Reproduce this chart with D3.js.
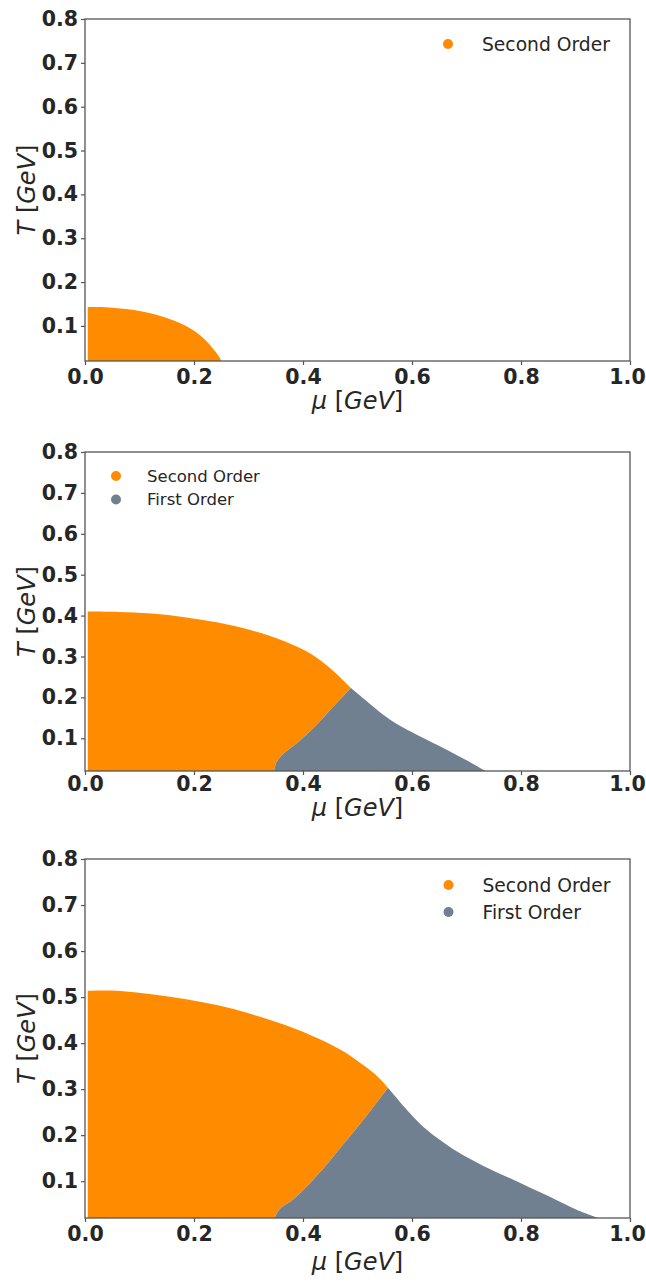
<!DOCTYPE html>
<html>
<head>
<meta charset="utf-8">
<script src="https://cdn.jsdelivr.net/npm/d3@7"></script>
<style>
  body { margin: 0; background: #fff; }
  text { font-family: "DejaVu Sans", sans-serif; }
</style>
</head>
<body>
<svg id="chart" width="646" height="1282"></svg>
<script>
// tick values shared by all three panels
var xTicks = [0.0, 0.2, 0.4, 0.6, 0.8, 1.0];
var yTicks = [0.1, 0.2, 0.3, 0.4, 0.5, 0.6, 0.7, 0.8];
var legendLabels = ["Second Order", "First Order"];

// panel 1: second order boundary [mu, T]
var p1Upper = [
  [0.005, 0.143], [0.03, 0.143], [0.06, 0.1405], [0.09, 0.1365], [0.12, 0.129],
  [0.15, 0.118], [0.175, 0.106], [0.195, 0.093], [0.21, 0.080], [0.223, 0.065],
  [0.233, 0.051], [0.241, 0.039], [0.247, 0.028], [0.25, 0.02]
];

// panel 2
var p2Upper = [
  [0.005, 0.410], [0.06, 0.409], [0.122, 0.405], [0.183, 0.396], [0.244, 0.383],
  [0.305, 0.364], [0.366, 0.337], [0.415, 0.306], [0.451, 0.270], [0.488, 0.223]
];
var p2Split = [
  [0.488, 0.223], [0.454, 0.175], [0.423, 0.130], [0.393, 0.093],
  [0.363, 0.061], [0.351, 0.040], [0.347, 0.02]
];
var p2Lower = [
  [0.488, 0.223], [0.516, 0.192], [0.546, 0.159], [0.577, 0.131], [0.607, 0.110],
  [0.638, 0.089], [0.668, 0.069], [0.699, 0.047], [0.735, 0.02]
];

// panel 3
var p3Upper = [
  [0.005, 0.514], [0.06, 0.514], [0.122, 0.506], [0.183, 0.496], [0.244, 0.482],
  [0.305, 0.463], [0.366, 0.440], [0.428, 0.410], [0.477, 0.380], [0.513, 0.350],
  [0.538, 0.326], [0.556, 0.303]
];
var p3Split = [
  [0.556, 0.303], [0.516, 0.241], [0.474, 0.180], [0.425, 0.111],
  [0.382, 0.060], [0.357, 0.039], [0.348, 0.02]
];
var p3Lower = [
  [0.556, 0.303], [0.590, 0.256], [0.620, 0.219], [0.651, 0.190], [0.682, 0.165],
  [0.731, 0.133], [0.792, 0.100], [0.853, 0.066], [0.902, 0.038], [0.942, 0.02]
];

var ORANGE = "#ff8c00";
var SLATE = "#708090";
var TMIN = 0.02;

var panels = [
  { top: 19, bottom: 361, upper: p1Upper, split: null, lower: null,
    xPad: 4, xLabelY: 409, legX: 448, legY: 44, legStep: 27, legFont: 18.7, legCount: 1 },
  { top: 452, bottom: 771, upper: p2Upper, split: p2Split, lower: p2Lower,
    xPad: 1.5, xLabelY: 816, legX: 116, legY: 476, legStep: 23.5, legFont: 16.5, legCount: 2 },
  { top: 859, bottom: 1218, upper: p3Upper, split: p3Split, lower: p3Lower,
    xPad: 4.5, xLabelY: 1270, legX: 448.5, legY: 885, legStep: 27, legFont: 18.7, legCount: 2 }
];

var svg = d3.select("#chart");

function drawPanel(p) {
  var x = d3.scaleLinear().domain([0, 1]).range([85, 630]);
  var y = d3.scaleLinear().domain([TMIN, 0.8]).range([p.bottom, p.top]);
  var g = svg.append("g");

  var smooth = d3.line()
    .curve(d3.curveCatmullRom.alpha(0.5))
    .x(function (d) { return x(d[0]); })
    .y(function (d) { return y(d[1]); });

  // joins a boundary piece onto the path that is already open
  function piece(pts) {
    return smooth(pts).replace(/^M/, "L");
  }

  // second order region
  var orangeD = "M" + x(p.upper[0][0]) + "," + y(TMIN) + piece(p.upper);
  if (p.split) orangeD += piece(p.split);
  g.append("path")
    .attr("d", orangeD + "Z")
    .attr("fill", ORANGE);

  // first order region
  if (p.lower) {
    var grayD = smooth(p.lower) + piece(p.split.slice().reverse());
    g.append("path")
      .attr("d", grayD + "Z")
      .attr("fill", SLATE);
  }

  var xAxis = g.append("g")
    .attr("transform", "translate(0," + p.bottom + ")")
    .call(d3.axisBottom(x).tickValues(xTicks).tickFormat(d3.format(".1f"))
      .tickSize(4).tickPadding(p.xPad));
  var yAxis = g.append("g")
    .attr("transform", "translate(85,0)")
    .call(d3.axisLeft(y).tickValues(yTicks).tickFormat(d3.format(".1f"))
      .tickSize(4).tickPadding(3));

  [xAxis, yAxis].forEach(function (a) {
    a.select(".domain").remove();
    a.selectAll("line").attr("stroke", "#555").attr("stroke-width", 1.2);
    a.selectAll("text")
      .style("font-family", "'DejaVu Sans', sans-serif")
      .style("font-weight", "bold")
      .style("font-size", "20.5px")
      .attr("fill", "#262626");
  });
  // keep the last label inside the page
  xAxis.select(".tick:last-of-type text").attr("dx", -3);

  // frame
  g.append("rect")
    .attr("x", x(0)).attr("y", p.top)
    .attr("width", x(1) - x(0)).attr("height", p.bottom - p.top)
    .attr("fill", "none")
    .attr("stroke", "#555")
    .attr("stroke-width", 1.3);

  // axis labels
  var xl = g.append("text")
    .attr("x", (x(0) + x(1)) / 2)
    .attr("y", p.xLabelY)
    .attr("text-anchor", "middle")
    .style("font-size", "24px")
    .attr("fill", "#262626");
  xl.append("tspan").style("font-style", "italic").text("\u03bc");
  xl.append("tspan").text(" [");
  xl.append("tspan").style("font-style", "italic").text("GeV");
  xl.append("tspan").text("]");

  var yl = g.append("text")
    .attr("transform", "translate(35," + (p.top + p.bottom) / 2 + ") rotate(-90)")
    .attr("text-anchor", "middle")
    .style("font-size", "24px")
    .attr("fill", "#262626");
  yl.append("tspan").style("font-style", "italic").text("T");
  yl.append("tspan").text(" [");
  yl.append("tspan").style("font-style", "italic").text("GeV");
  yl.append("tspan").text("]");

  // legend
  var colors = [ORANGE, SLATE];
  var leg = g.selectAll(".leg")
    .data(legendLabels.slice(0, p.legCount))
    .enter()
    .append("g")
    .attr("class", "leg")
    .attr("transform", function (d, i) {
      return "translate(" + p.legX + "," + (p.legY + i * p.legStep) + ")";
    });
  leg.append("circle")
    .attr("r", 5)
    .attr("fill", function (d, i) { return colors[i]; });
  leg.append("text")
    .attr("x", p.legX < 200 ? 31 : 34)
    .attr("dy", "0.35em")
    .style("font-size", p.legFont + "px")
    .attr("fill", "#262626")
    .text(function (d) { return d; });
}

panels.forEach(drawPanel);
</script>
</body>
</html>
